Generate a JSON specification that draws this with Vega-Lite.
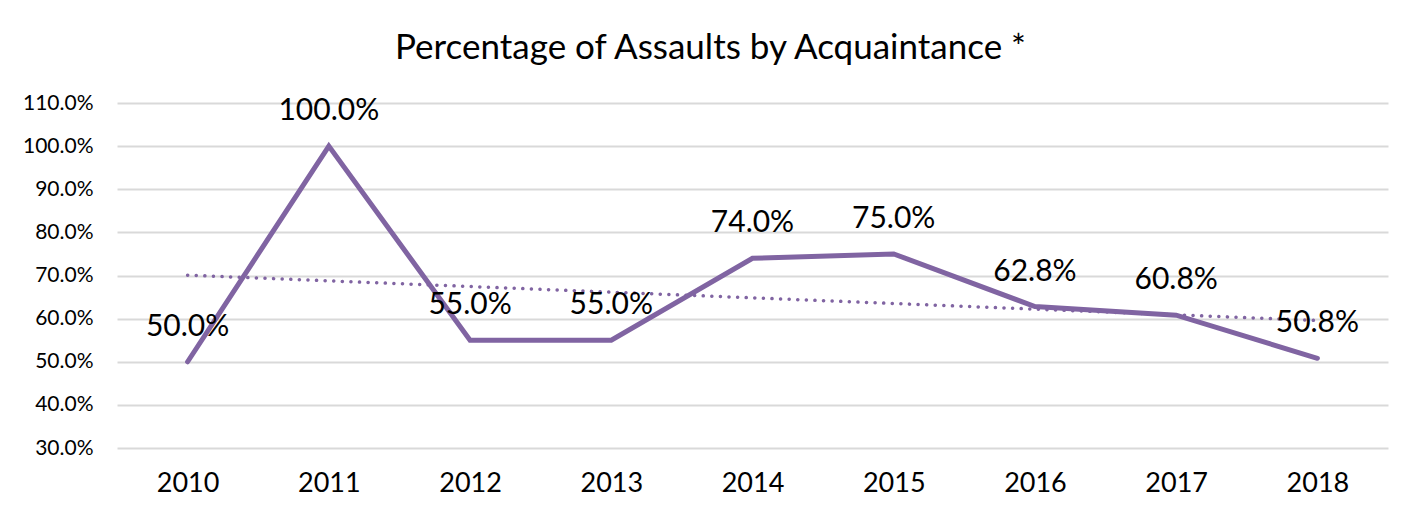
{
  "$schema": "https://vega.github.io/schema/vega-lite/v6.json",
  "autosize": {"type": "none"},
  "width": 1271,
  "height": 345,
  "padding": {"left": 117, "top": 103, "right": 36, "bottom": 70},
  "background": "white",
  "config": {
    "font": "Lato, sans-serif",
    "view": {"stroke": null}
  },
  "title": {
    "text": "Percentage of Assaults by Acquaintance *",
    "fontSize": 35,
    "fontWeight": "normal",
    "color": "#000000",
    "font": "Lato, sans-serif",
    "anchor": "middle",
    "baseline": "alphabetic",
    "offset": -2,
    "dx": -42
  },
  "data": {
    "values": [
      {"year": 2010, "value": 0.5},
      {"year": 2011, "value": 1.0},
      {"year": 2012, "value": 0.55},
      {"year": 2013, "value": 0.55},
      {"year": 2014, "value": 0.74},
      {"year": 2015, "value": 0.75},
      {"year": 2016, "value": 0.628},
      {"year": 2017, "value": 0.608},
      {"year": 2018, "value": 0.508}
    ]
  },
  "encoding": {
    "x": {
      "field": "year",
      "type": "quantitative",
      "scale": {"domain": [2009.5, 2018.5], "nice": false, "zero": false},
      "axis": {
        "values": [2010, 2011, 2012, 2013, 2014, 2015, 2016, 2017, 2018],
        "format": "d",
        "title": null,
        "grid": false,
        "domain": false,
        "ticks": false,
        "labelFontSize": 27,
        "labelColor": "#000000",
        "labelPadding": 22,
        "labelFont": "Lato, sans-serif"
      }
    },
    "y": {
      "field": "value",
      "type": "quantitative",
      "scale": {"domain": [0.3, 1.1], "nice": false, "zero": false},
      "axis": {
        "values": [0.3, 0.4, 0.5, 0.6, 0.7, 0.8, 0.9, 1.0, 1.1],
        "format": ".1%",
        "title": null,
        "grid": true,
        "gridColor": "#d9d9d9",
        "gridWidth": 2,
        "domain": false,
        "ticks": false,
        "labelFontSize": 21,
        "labelColor": "#000000",
        "labelPadding": 24,
        "labelFont": "Lato, sans-serif"
      }
    }
  },
  "layer": [
    {
      "transform": [
        {"regression": "value", "on": "year", "method": "linear", "extent": [2010, 2018]}
      ],
      "mark": {"type": "line", "color": "#8064A2", "strokeWidth": 3.5, "strokeDash": [0.1, 8.5], "strokeCap": "round"}
    },
    {
      "mark": {"type": "line", "color": "#8064A2", "strokeWidth": 5, "strokeCap": "round", "strokeJoin": "miter"}
    },
    {
      "mark": {"type": "text", "fontSize": 30, "color": "#000000", "baseline": "alphabetic", "dy": -26, "font": "Lato, sans-serif"},
      "encoding": {
        "text": {"field": "value", "type": "quantitative", "format": ".1%"}
      }
    }
  ]
}
